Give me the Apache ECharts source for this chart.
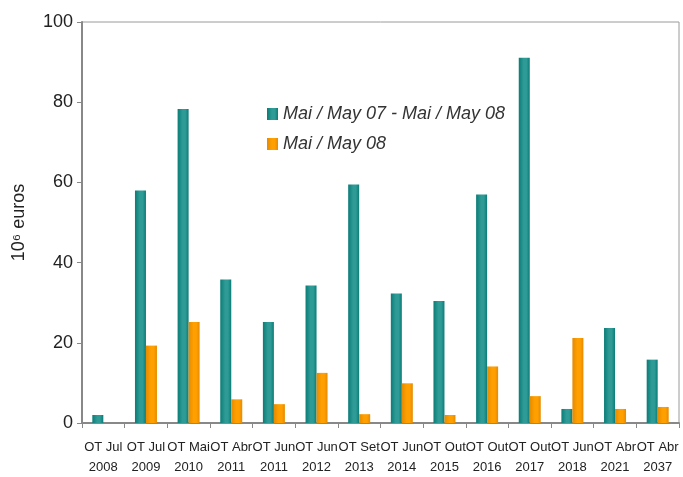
<!DOCTYPE html>
<html>
<head>
<meta charset="utf-8">
<script src="https://cdn.jsdelivr.net/npm/echarts@6/dist/echarts.min.js"></script>
<style>html,body{margin:0;padding:0;background:#fff}#c{width:683px;height:477px}</style>
</head>
<body>
<div id="c"></div>
<script>
var categories = ['OT Jul\n2008','OT Jul\n2009','OT Mai\n2010','OT Abr\n2011','OT Jun\n2011','OT Jun\n2012','OT Set\n2013','OT Jun\n2014','OT Out\n2015','OT Out\n2016','OT Out\n2017','OT Jun\n2018','OT Abr\n2021','OT Abr\n2037'];
var seriesNames = ['Mai / May 07 - Mai / May 08', 'Mai / May 08'];
var valuesYear = [2.0, 58.0, 78.3, 35.8, 25.2, 34.3, 59.5, 32.3, 30.4, 57.0, 91.1, 3.5, 23.7, 15.8];
var valuesMay = [null, 19.3, 25.2, 5.9, 4.7, 12.5, 2.2, 9.9, 2.0, 14.1, 6.7, 21.2, 3.5, 4.0];
var yTicks = [0, 20, 40, 60, 80, 100];

function grad(edge, mid) {
  return new echarts.graphic.LinearGradient(0, 0, 1, 0, [
    {offset: 0, color: edge}, {offset: 0.45, color: mid}, {offset: 0.7, color: mid}, {offset: 1, color: edge}
  ]);
}
var chart = echarts.init(document.getElementById('c'));
chart.setOption({
  animation: false,
  textStyle: {fontFamily: 'Liberation Sans, Arial, sans-serif'},
  grid: {left: 82, right: 4, top: 22, bottom: 50, show: true, borderColor: '#9a9a9a', borderWidth: 1},
  legend: {
    orient: 'vertical', left: 262, top: 100, itemWidth: 11, itemHeight: 12, itemGap: 12,
    icon: 'rect',
    textStyle: {fontSize: 18, fontStyle: 'italic', color: '#333', fontFamily: 'Liberation Sans, Arial, sans-serif'},
    data: seriesNames
  },
  xAxis: {
    type: 'category', data: categories,
    axisLine: {lineStyle: {color: '#888', width: 2}},
    axisTick: {show: true, alignWithLabel: false, length: 5, lineStyle: {color: '#888'}},
    axisLabel: {interval: 0, fontSize: 13, color: '#222', lineHeight: 20, margin: 14}
  },
  yAxis: {
    type: 'value', min: yTicks[0], max: yTicks[yTicks.length - 1], interval: 20,
    name: '10\u2076 euros', nameLocation: 'middle', nameGap: 54, nameRotate: 90,
    nameTextStyle: {fontSize: 18, color: '#222'},
    splitLine: {show: false},
    axisLine: {show: true, lineStyle: {color: '#888', width: 2}},
    axisTick: {show: true, length: 5, lineStyle: {color: '#888'}},
    axisLabel: {fontSize: 18, color: '#222', margin: 9}
  },
  series: [
    {name: seriesNames[0], type: 'bar', data: valuesYear, barWidth: 11, barGap: '0%',
      itemStyle: {color: grad('#0b7c77', '#2f9b97')}},
    {name: seriesNames[1], type: 'bar', data: valuesMay, barWidth: 11, barGap: '0%',
      itemStyle: {color: grad('#e68a00', '#ffa000')}}
  ]
});
</script>
</body>
</html>
